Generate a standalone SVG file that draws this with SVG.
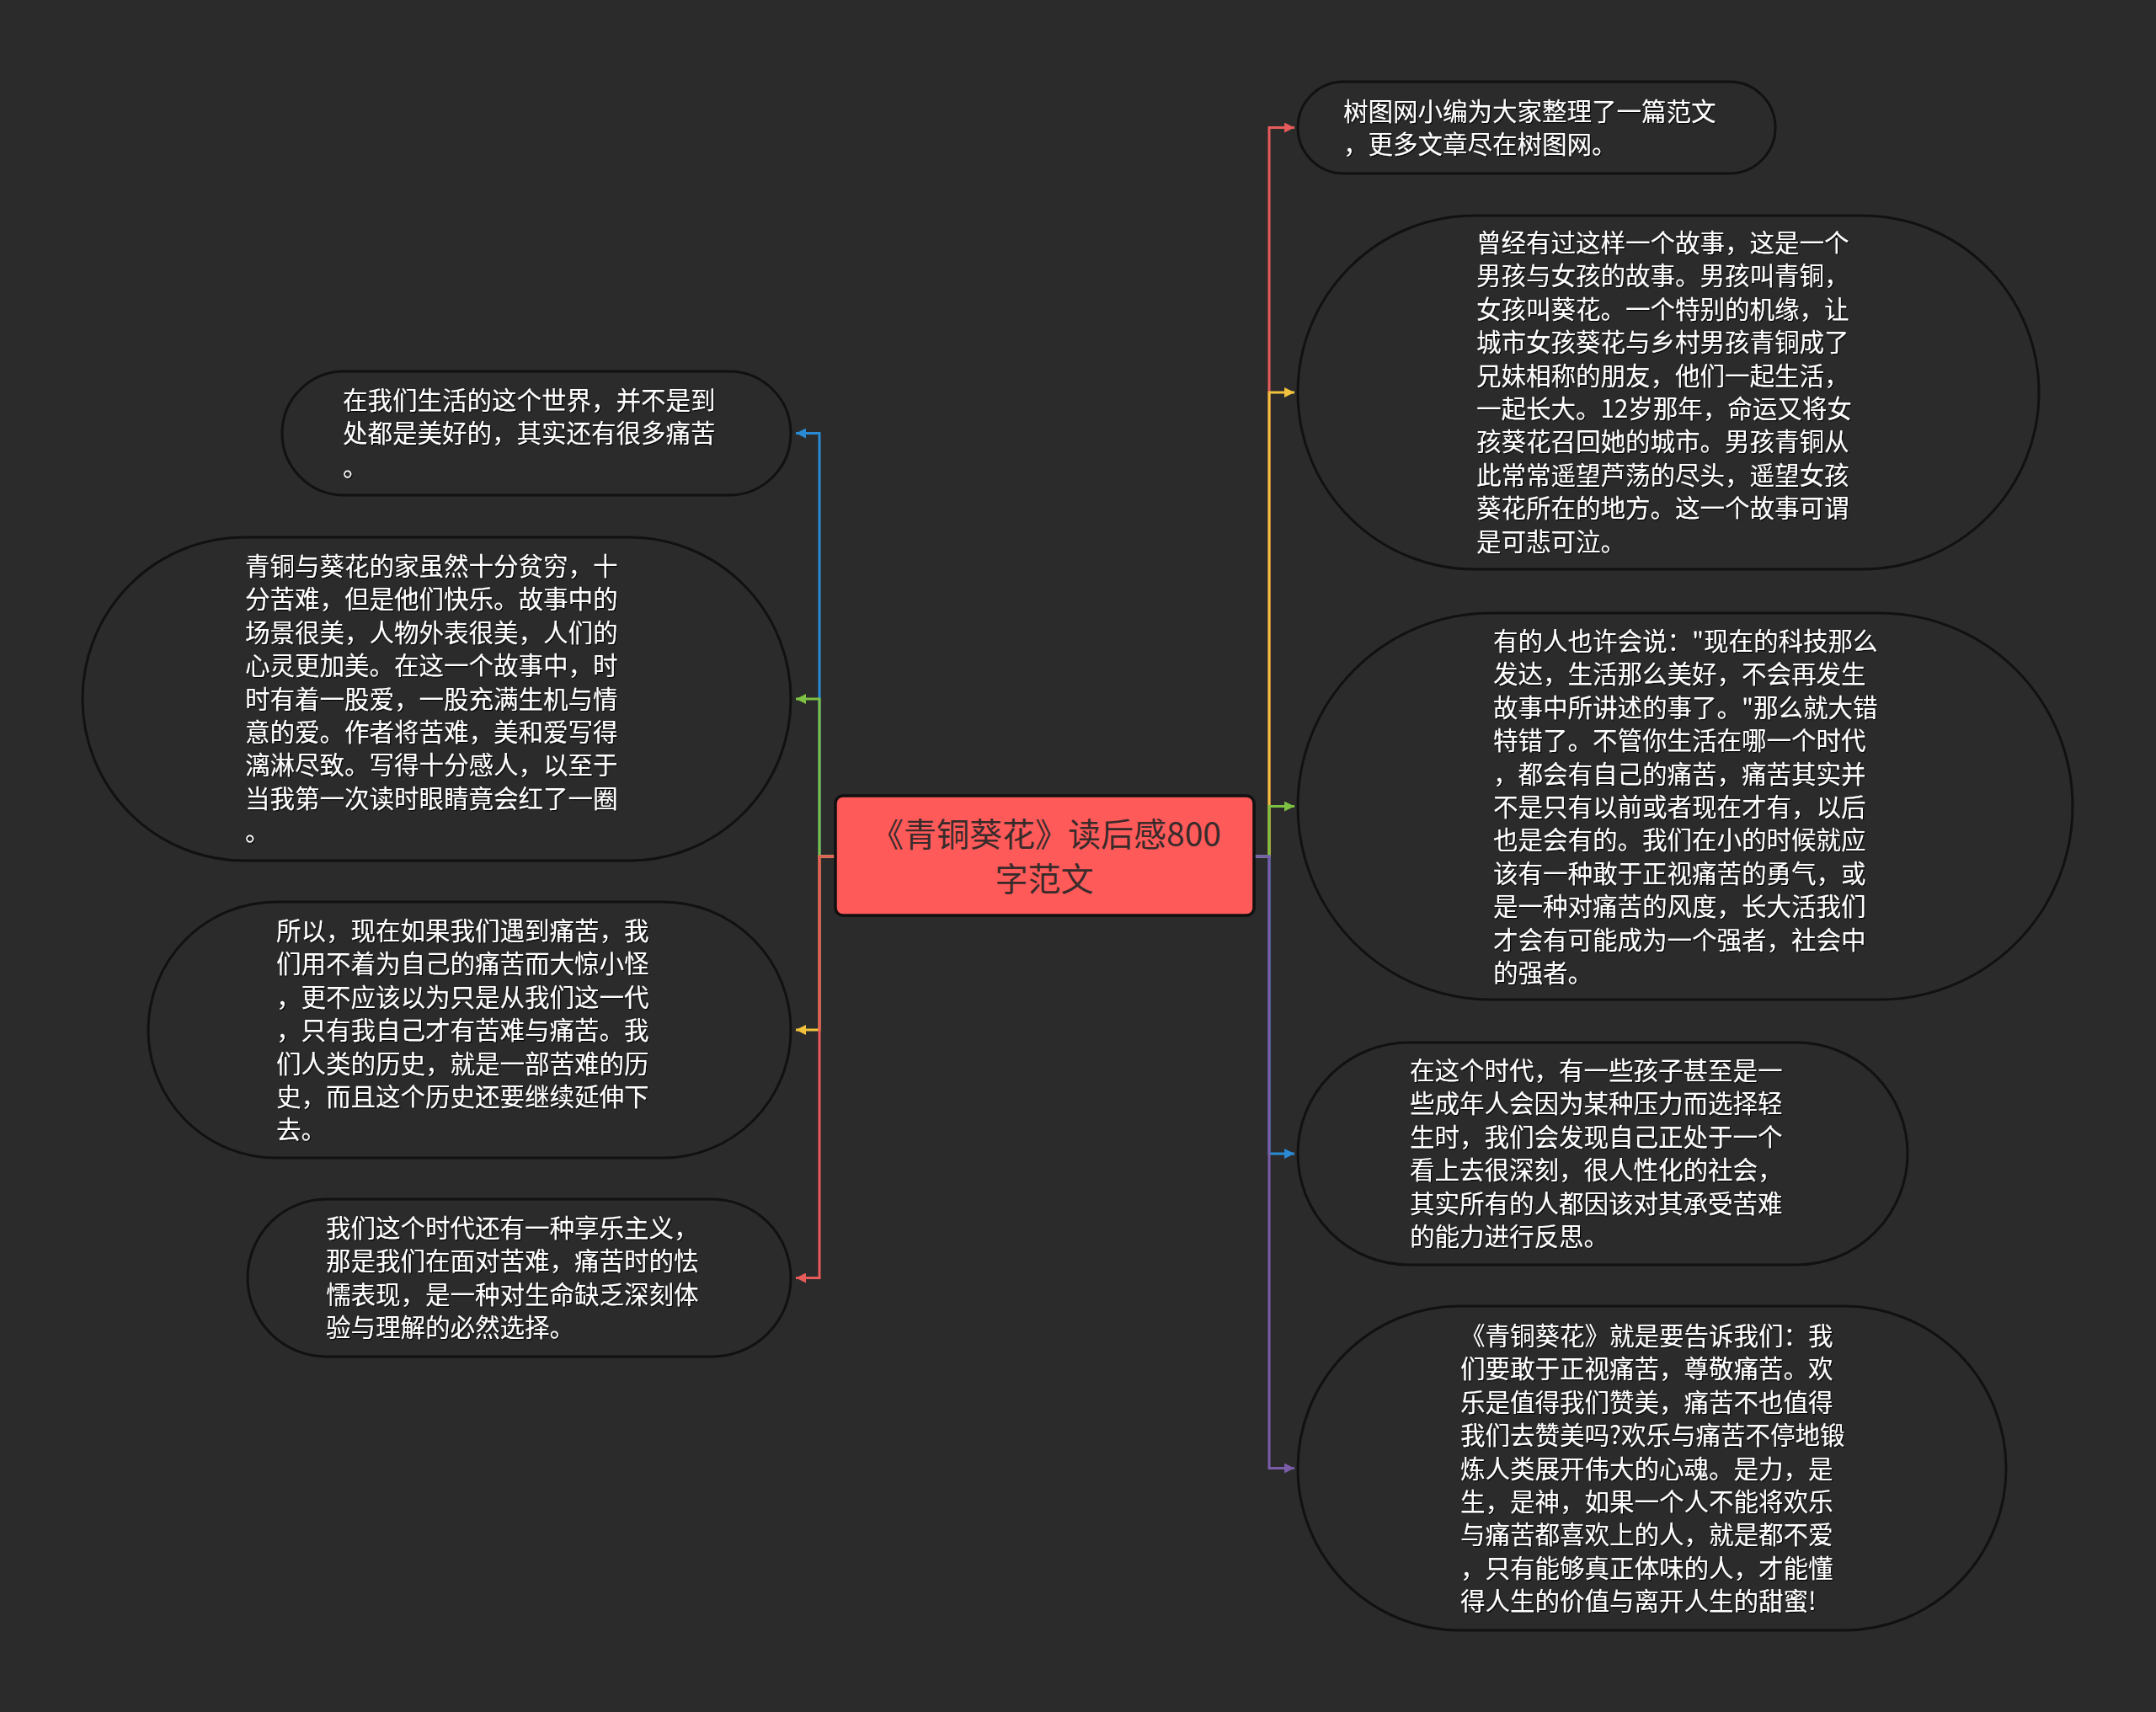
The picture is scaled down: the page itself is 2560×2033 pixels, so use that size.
<svg xmlns="http://www.w3.org/2000/svg" width="2560" height="2033" viewBox="0 0 2560 2033">
<style>
.node{fill:#2b2b2b;stroke:#111;stroke-width:3}
.t{font-family:"Noto Sans CJK SC","Noto Sans",sans-serif;font-size:29.5px;fill:#ffffff}
.ct{font-family:"Noto Sans CJK SC","Noto Sans",sans-serif;font-size:39px;fill:#3a2b2b}
.c{fill:none;stroke-width:3}
</style>
<defs>
<filter id="sh" x="-5%" y="-5%" width="110%" height="110%"><feDropShadow dx="1.2" dy="1.2" stdDeviation="0.6" flood-color="#000" flood-opacity="0.9"/></filter>
<marker id="mR" viewBox="0 0 12 12" refX="12" refY="6" markerWidth="12" markerHeight="12" markerUnits="userSpaceOnUse" orient="auto"><path d="M0,0 L12,6 L0,12 z" fill="#e85b5b"/></marker>
<marker id="mY" viewBox="0 0 12 12" refX="12" refY="6" markerWidth="12" markerHeight="12" markerUnits="userSpaceOnUse" orient="auto"><path d="M0,0 L12,6 L0,12 z" fill="#f2c23c"/></marker>
<marker id="mG" viewBox="0 0 12 12" refX="12" refY="6" markerWidth="12" markerHeight="12" markerUnits="userSpaceOnUse" orient="auto"><path d="M0,0 L12,6 L0,12 z" fill="#7cc142"/></marker>
<marker id="mB" viewBox="0 0 12 12" refX="12" refY="6" markerWidth="12" markerHeight="12" markerUnits="userSpaceOnUse" orient="auto"><path d="M0,0 L12,6 L0,12 z" fill="#2a8bd4"/></marker>
<marker id="mP" viewBox="0 0 12 12" refX="12" refY="6" markerWidth="12" markerHeight="12" markerUnits="userSpaceOnUse" orient="auto"><path d="M0,0 L12,6 L0,12 z" fill="#7a5ca8"/></marker>
</defs>
<rect x="0" y="0" width="2560" height="2033" fill="#2b2b2b"/>
<g id="connectors">
<path class="c" stroke="#2a8bd4" marker-end="url(#mB)" d="M992,1017 H973 V514.5 H945"/>
<path class="c" stroke="#7cc142" marker-end="url(#mG)" d="M992,1017 H973 V830 H945"/>
<path class="c" stroke="#f2c23c" marker-end="url(#mY)" d="M992,1017 H973 V1223 H945"/>
<path class="c" stroke="#e85b5b" marker-end="url(#mR)" d="M992,1017 H973 V1517.5 H945"/>
<path class="c" stroke="#e85b5b" marker-end="url(#mR)" d="M1489,1017 H1507 V151.5 H1537"/>
<path class="c" stroke="#f2c23c" marker-end="url(#mY)" d="M1489,1017 H1507 V466 H1537"/>
<path class="c" stroke="#7cc142" marker-end="url(#mG)" d="M1489,1017 H1507 V957.5 H1537"/>
<path class="c" stroke="#2a8bd4" marker-end="url(#mB)" d="M1489,1017 H1507 V1370 H1537"/>
<path class="c" stroke="#7a5ca8" marker-end="url(#mP)" d="M1489,1017 H1507 V1743.5 H1537"/>
</g>
<g id="center">
<rect x="992" y="945" width="497" height="142" rx="9" fill="#ff5a5a" stroke="#111" stroke-width="3.5"/>
<text class="ct" text-anchor="middle"><tspan x="1242" y="1005">《青铜葵花》读后感800</tspan><tspan x="1240" y="1058">字范文</tspan></text>
</g>
<g id="n1">
<rect class="node" x="1541" y="97" width="567" height="109" rx="54.5"/>
<text class="t" filter="url(#sh)"><tspan x="1595" y="143">树图网小编为大家整理了一篇范文</tspan><tspan x="1595" y="182">，更多文章尽在树图网。</tspan></text>
</g>
<g id="n2">
<rect class="node" x="1541" y="256" width="880" height="420" rx="210"/>
<text class="t" filter="url(#sh)"><tspan x="1753" y="299">曾经有过这样一个故事，这是一个</tspan><tspan x="1753" y="338.4">男孩与女孩的故事。男孩叫青铜，</tspan><tspan x="1753" y="377.8">女孩叫葵花。一个特别的机缘，让</tspan><tspan x="1753" y="417.2">城市女孩葵花与乡村男孩青铜成了</tspan><tspan x="1753" y="456.6">兄妹相称的朋友，他们一起生活，</tspan><tspan x="1753" y="496">一起长大。12岁那年，命运又将女</tspan><tspan x="1753" y="535.4">孩葵花召回她的城市。男孩青铜从</tspan><tspan x="1753" y="574.8">此常常遥望芦荡的尽头，遥望女孩</tspan><tspan x="1753" y="614.2">葵花所在的地方。这一个故事可谓</tspan><tspan x="1753" y="653.6">是可悲可泣。</tspan></text>
</g>
<g id="n3">
<rect class="node" x="1541" y="728" width="920" height="459" rx="229.5"/>
<text class="t" filter="url(#sh)"><tspan x="1773" y="772">有的人也许会说："现在的科技那么</tspan><tspan x="1773" y="811.4">发达，生活那么美好，不会再发生</tspan><tspan x="1773" y="850.8">故事中所讲述的事了。"那么就大错</tspan><tspan x="1773" y="890.2">特错了。不管你生活在哪一个时代</tspan><tspan x="1773" y="929.6">，都会有自己的痛苦，痛苦其实并</tspan><tspan x="1773" y="969">不是只有以前或者现在才有，以后</tspan><tspan x="1773" y="1008.4">也是会有的。我们在小的时候就应</tspan><tspan x="1773" y="1047.8">该有一种敢于正视痛苦的勇气，或</tspan><tspan x="1773" y="1087.2">是一种对痛苦的风度，长大活我们</tspan><tspan x="1773" y="1126.6">才会有可能成为一个强者，社会中</tspan><tspan x="1773" y="1166">的强者。</tspan></text>
</g>
<g id="n4">
<rect class="node" x="1541" y="1238" width="724" height="264" rx="132"/>
<text class="t" filter="url(#sh)"><tspan x="1674" y="1282">在这个时代，有一些孩子甚至是一</tspan><tspan x="1674" y="1321.4">些成年人会因为某种压力而选择轻</tspan><tspan x="1674" y="1360.8">生时，我们会发现自己正处于一个</tspan><tspan x="1674" y="1400.2">看上去很深刻，很人性化的社会，</tspan><tspan x="1674" y="1439.6">其实所有的人都因该对其承受苦难</tspan><tspan x="1674" y="1479">的能力进行反思。</tspan></text>
</g>
<g id="n5">
<rect class="node" x="1541" y="1551" width="841" height="385" rx="192.5"/>
<text class="t" filter="url(#sh)"><tspan x="1734" y="1597">《青铜葵花》就是要告诉我们：我</tspan><tspan x="1734" y="1636.4">们要敢于正视痛苦，尊敬痛苦。欢</tspan><tspan x="1734" y="1675.8">乐是值得我们赞美，痛苦不也值得</tspan><tspan x="1734" y="1715.2">我们去赞美吗?欢乐与痛苦不停地锻</tspan><tspan x="1734" y="1754.6">炼人类展开伟大的心魂。是力，是</tspan><tspan x="1734" y="1794">生，是神，如果一个人不能将欢乐</tspan><tspan x="1734" y="1833.4">与痛苦都喜欢上的人，就是都不爱</tspan><tspan x="1734" y="1872.8">，只有能够真正体味的人，才能懂</tspan><tspan x="1734" y="1912.2">得人生的价值与离开人生的甜蜜!</tspan></text>
</g>
<g id="l1">
<rect class="node" x="335" y="441" width="604" height="147" rx="73.5"/>
<text class="t" filter="url(#sh)"><tspan x="407" y="486">在我们生活的这个世界，并不是到</tspan><tspan x="407" y="525.4">处都是美好的，其实还有很多痛苦</tspan><tspan x="407" y="564.8">。</tspan></text>
</g>
<g id="l2">
<rect class="node" x="98" y="638" width="841" height="384" rx="192"/>
<text class="t" filter="url(#sh)"><tspan x="291" y="683">青铜与葵花的家虽然十分贫穷，十</tspan><tspan x="291" y="722.4">分苦难，但是他们快乐。故事中的</tspan><tspan x="291" y="761.8">场景很美，人物外表很美，人们的</tspan><tspan x="291" y="801.2">心灵更加美。在这一个故事中，时</tspan><tspan x="291" y="840.6">时有着一股爱，一股充满生机与情</tspan><tspan x="291" y="880">意的爱。作者将苦难，美和爱写得</tspan><tspan x="291" y="919.4">漓淋尽致。写得十分感人，以至于</tspan><tspan x="291" y="958.8">当我第一次读时眼睛竟会红了一圈</tspan><tspan x="291" y="998.2">。</tspan></text>
</g>
<g id="l3">
<rect class="node" x="176" y="1071" width="763" height="304" rx="152"/>
<text class="t" filter="url(#sh)"><tspan x="328" y="1116">所以，现在如果我们遇到痛苦，我</tspan><tspan x="328" y="1155.4">们用不着为自己的痛苦而大惊小怪</tspan><tspan x="328" y="1194.8">，更不应该以为只是从我们这一代</tspan><tspan x="328" y="1234.2">，只有我自己才有苦难与痛苦。我</tspan><tspan x="328" y="1273.6">们人类的历史，就是一部苦难的历</tspan><tspan x="328" y="1313">史，而且这个历史还要继续延伸下</tspan><tspan x="328" y="1352.4">去。</tspan></text>
</g>
<g id="l4">
<rect class="node" x="294" y="1424" width="645" height="187" rx="93.5"/>
<text class="t" filter="url(#sh)"><tspan x="387" y="1469">我们这个时代还有一种享乐主义，</tspan><tspan x="387" y="1508.4">那是我们在面对苦难，痛苦时的怯</tspan><tspan x="387" y="1547.8">懦表现，是一种对生命缺乏深刻体</tspan><tspan x="387" y="1587.2">验与理解的必然选择。</tspan></text>
</g>
</svg>
